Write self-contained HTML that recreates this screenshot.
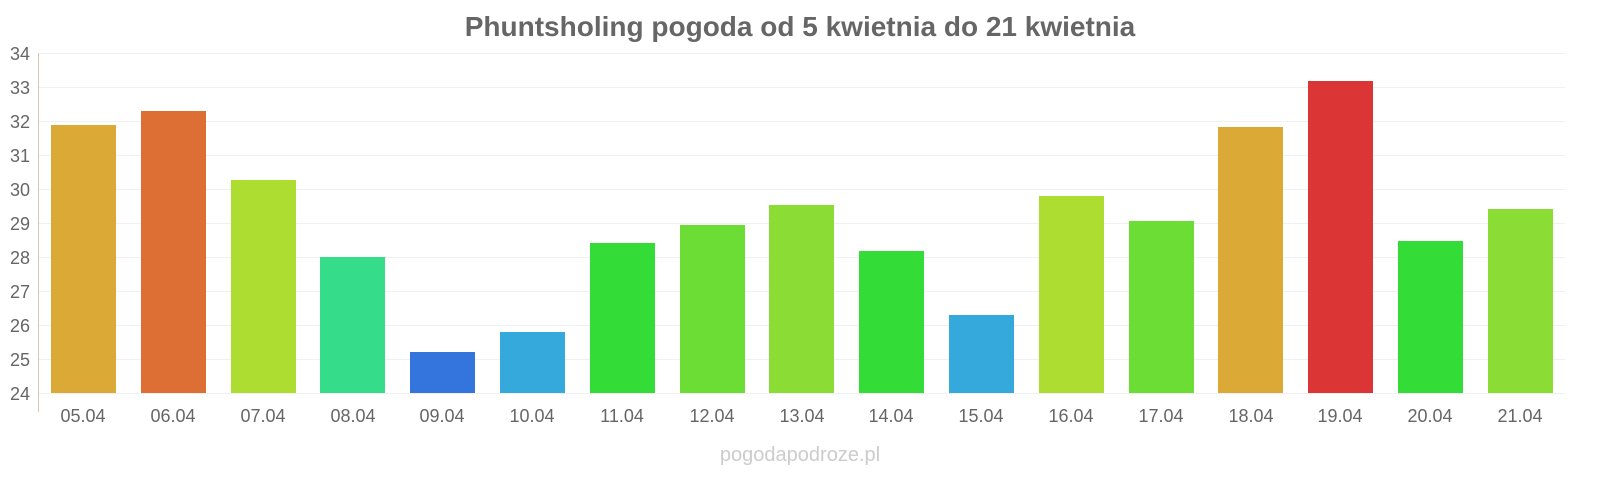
<!DOCTYPE html>
<html><head><meta charset="utf-8"><style>
html,body{margin:0;padding:0;background:#fff;width:1600px;height:480px;overflow:hidden}
svg text{font-family:"Liberation Sans",sans-serif}
</style></head><body>
<svg width="1600" height="480" xmlns="http://www.w3.org/2000/svg">
<text x="800" y="36" text-anchor="middle" font-size="28" font-weight="bold" fill="#666">Phuntsholing pogoda od 5 kwietnia do 21 kwietnia</text>
<g stroke="#f0f0f0" stroke-width="1">
<line x1="38" x2="1565" y1="53.5" y2="53.5"/><line x1="38" x2="1565" y1="87.5" y2="87.5"/><line x1="38" x2="1565" y1="121.5" y2="121.5"/><line x1="38" x2="1565" y1="155.5" y2="155.5"/><line x1="38" x2="1565" y1="189.5" y2="189.5"/><line x1="38" x2="1565" y1="223.5" y2="223.5"/><line x1="38" x2="1565" y1="257.5" y2="257.5"/><line x1="38" x2="1565" y1="291.5" y2="291.5"/><line x1="38" x2="1565" y1="325.5" y2="325.5"/><line x1="38" x2="1565" y1="359.5" y2="359.5"/><line x1="38" x2="1565" y1="393.5" y2="393.5"/>
</g>
<line x1="38.5" x2="38.5" y1="53" y2="412" stroke="#d6c9b0" stroke-width="1"/>
<g font-size="18" fill="#666" text-anchor="end">
<text x="30" y="60">34</text><text x="30" y="94">33</text><text x="30" y="128">32</text><text x="30" y="162">31</text><text x="30" y="196">30</text><text x="30" y="230">29</text><text x="30" y="264">28</text><text x="30" y="298">27</text><text x="30" y="332">26</text><text x="30" y="366">25</text><text x="30" y="400">24</text>
</g>
<g>
<rect x="51" y="125" width="65" height="268" fill="#dba935"/>
<rect x="141" y="111" width="65" height="282" fill="#dd6f35"/>
<rect x="231" y="180" width="65" height="213" fill="#addd31"/>
<rect x="320" y="257" width="65" height="136" fill="#35dc8a"/>
<rect x="410" y="352" width="65" height="41" fill="#3374dd"/>
<rect x="500" y="332" width="65" height="61" fill="#35a8dc"/>
<rect x="590" y="243" width="65" height="150" fill="#33dc37"/>
<rect x="680" y="225" width="65" height="168" fill="#6cdd35"/>
<rect x="769" y="205" width="65" height="188" fill="#8bdd35"/>
<rect x="859" y="251" width="65" height="142" fill="#33dc37"/>
<rect x="949" y="315" width="65" height="78" fill="#35a8dc"/>
<rect x="1039" y="196" width="65" height="197" fill="#addd31"/>
<rect x="1129" y="221" width="65" height="172" fill="#6cdd35"/>
<rect x="1218" y="127" width="65" height="266" fill="#dba935"/>
<rect x="1308" y="81" width="65" height="312" fill="#dc3535"/>
<rect x="1398" y="241" width="65" height="152" fill="#33dc37"/>
<rect x="1488" y="209" width="65" height="184" fill="#8bdd35"/>
</g>
<g font-size="18" fill="#666" text-anchor="middle">
<text x="83" y="422">05.04</text><text x="173" y="422">06.04</text><text x="263" y="422">07.04</text><text x="353" y="422">08.04</text><text x="442" y="422">09.04</text><text x="532" y="422">10.04</text><text x="622" y="422">11.04</text><text x="712" y="422">12.04</text><text x="802" y="422">13.04</text><text x="891" y="422">14.04</text><text x="981" y="422">15.04</text><text x="1071" y="422">16.04</text><text x="1161" y="422">17.04</text><text x="1251" y="422">18.04</text><text x="1340" y="422">19.04</text><text x="1430" y="422">20.04</text><text x="1520" y="422">21.04</text>
</g>
<text x="800" y="461" text-anchor="middle" font-size="20" fill="#ccc">pogodapodroze.pl</text>
</svg>
</body></html>
